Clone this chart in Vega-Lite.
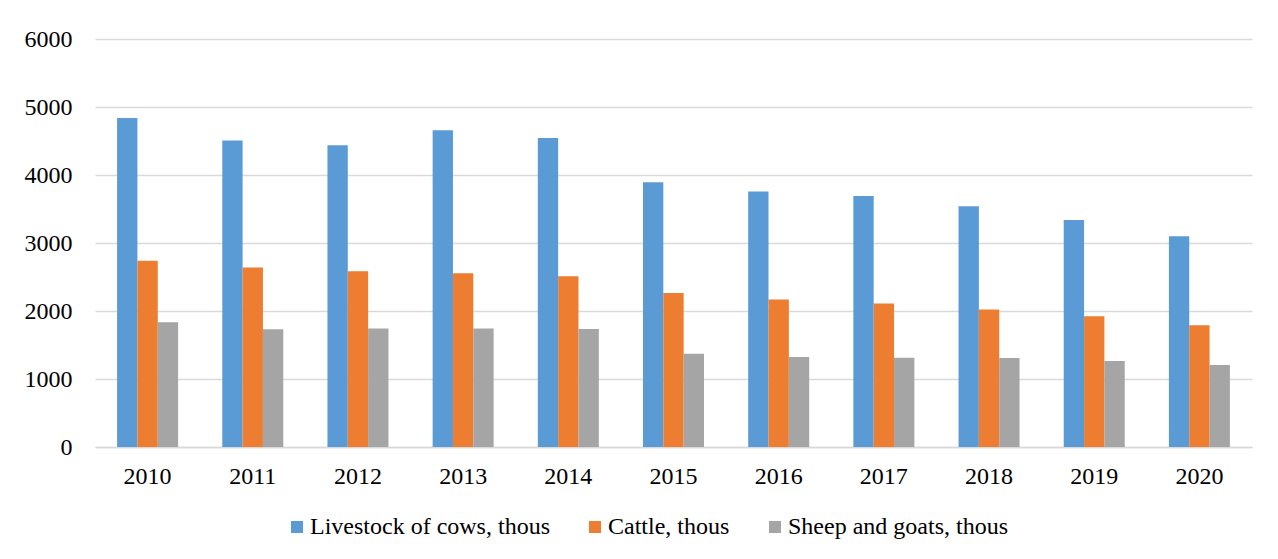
{
  "$schema": "https://vega.github.io/schema/vega-lite/v6.json",
  "width": 1157,
  "height": 408,
  "autosize": {"type": "none"},
  "padding": {"left": 95, "top": 39, "right": 26, "bottom": 112},
  "background": "white",
  "config": {
    "font": "Liberation Serif",
    "view": {"stroke": null},
    "axis": {
      "labelFont": "Liberation Serif",
      "labelFontSize": 24,
      "labelColor": "#000000",
      "ticks": false,
      "title": null
    },
    "legend": {
      "labelFont": "Liberation Serif",
      "labelFontSize": 24,
      "labelColor": "#000000"
    }
  },
  "data": {
    "values": [
      {"year": "2010", "series": "Livestock of cows, thous", "value": 4840},
      {"year": "2010", "series": "Cattle, thous", "value": 2740},
      {"year": "2010", "series": "Sheep and goats, thous", "value": 1834},
      {"year": "2011", "series": "Livestock of cows, thous", "value": 4506},
      {"year": "2011", "series": "Cattle, thous", "value": 2638},
      {"year": "2011", "series": "Sheep and goats, thous", "value": 1731},
      {"year": "2012", "series": "Livestock of cows, thous", "value": 4437},
      {"year": "2012", "series": "Cattle, thous", "value": 2584},
      {"year": "2012", "series": "Sheep and goats, thous", "value": 1741},
      {"year": "2013", "series": "Livestock of cows, thous", "value": 4657},
      {"year": "2013", "series": "Cattle, thous", "value": 2554},
      {"year": "2013", "series": "Sheep and goats, thous", "value": 1741},
      {"year": "2014", "series": "Livestock of cows, thous", "value": 4544},
      {"year": "2014", "series": "Cattle, thous", "value": 2510},
      {"year": "2014", "series": "Sheep and goats, thous", "value": 1735},
      {"year": "2015", "series": "Livestock of cows, thous", "value": 3893},
      {"year": "2015", "series": "Cattle, thous", "value": 2265},
      {"year": "2015", "series": "Sheep and goats, thous", "value": 1373},
      {"year": "2016", "series": "Livestock of cows, thous", "value": 3756},
      {"year": "2016", "series": "Cattle, thous", "value": 2168},
      {"year": "2016", "series": "Sheep and goats, thous", "value": 1324},
      {"year": "2017", "series": "Livestock of cows, thous", "value": 3691},
      {"year": "2017", "series": "Cattle, thous", "value": 2109},
      {"year": "2017", "series": "Sheep and goats, thous", "value": 1314},
      {"year": "2018", "series": "Livestock of cows, thous", "value": 3540},
      {"year": "2018", "series": "Cattle, thous", "value": 2021},
      {"year": "2018", "series": "Sheep and goats, thous", "value": 1309},
      {"year": "2019", "series": "Livestock of cows, thous", "value": 3338},
      {"year": "2019", "series": "Cattle, thous", "value": 1922},
      {"year": "2019", "series": "Sheep and goats, thous", "value": 1265},
      {"year": "2020", "series": "Livestock of cows, thous", "value": 3098},
      {"year": "2020", "series": "Cattle, thous", "value": 1790},
      {"year": "2020", "series": "Sheep and goats, thous", "value": 1206}
    ]
  },
  "mark": {"type": "bar"},
  "encoding": {
    "x": {
      "field": "year",
      "type": "nominal",
      "scale": {"paddingInner": 0.42, "paddingOuter": 0.21},
      "axis": {
        "labelAngle": 0,
        "labelPadding": 17,
        "domain": true,
        "domainColor": "#d9d9d9",
        "domainWidth": 1.3,
        "grid": false
      }
    },
    "xOffset": {
      "field": "series",
      "type": "nominal",
      "sort": ["Livestock of cows, thous", "Cattle, thous", "Sheep and goats, thous"],
      "scale": {"paddingInner": 0, "paddingOuter": 0}
    },
    "y": {
      "field": "value",
      "type": "quantitative",
      "scale": {"domain": [0, 6000], "nice": false},
      "axis": {
        "values": [0, 1000, 2000, 3000, 4000, 5000, 6000],
        "format": "d",
        "labelPadding": 23,
        "domain": false,
        "grid": true,
        "gridColor": "#d9d9d9",
        "gridWidth": 1.3
      }
    },
    "color": {
      "field": "series",
      "type": "nominal",
      "sort": ["Livestock of cows, thous", "Cattle, thous", "Sheep and goats, thous"],
      "scale": {
        "domain": ["Livestock of cows, thous", "Cattle, thous", "Sheep and goats, thous"],
        "range": ["#5b9bd5", "#ed7d31", "#a5a5a5"]
      },
      "legend": {
        "title": null,
        "orient": "none",
        "direction": "horizontal",
        "legendX": 190,
        "legendY": 476,
        "symbolType": "square",
        "symbolSize": 144,
        "symbolStrokeWidth": 0,
        "labelOffset": 1,
        "columnPadding": 33,
        "labelLimit": 400
      }
    }
  }
}
